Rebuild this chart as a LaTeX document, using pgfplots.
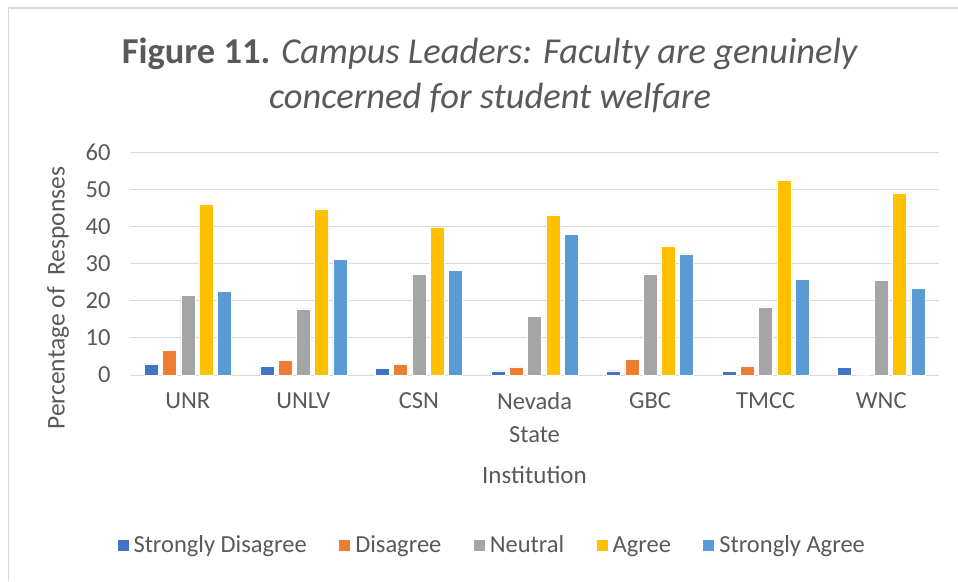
\documentclass[border=0pt]{standalone}
\usepackage{fontspec}
\setmainfont{Carlito}
\usepackage{pgfplots}
\pgfplotsset{compat=1.18}
\definecolor{txt}{HTML}{595959}
\definecolor{gridc}{HTML}{D9D9D9}
\definecolor{sdis}{HTML}{4472C4}
\definecolor{dis}{HTML}{ED7D31}
\definecolor{neu}{HTML}{A5A5A5}
\definecolor{agr}{HTML}{FFC000}
\definecolor{sagr}{HTML}{5B9BD5}

\begin{document}
\begin{tikzpicture}
\useasboundingbox (-130pt,-206pt) rectangle (828pt,375pt);
% chart frame (only top and left edges show)
\draw[gridc, line width=1.2pt] (-121.5pt,-206pt) -- (-121.5pt,367pt) -- (828pt,367pt);
\begin{axis}[
  scale only axis, width=809pt, height=223pt,
  ybar=4.3pt, bar width=14pt,
  xmin=-0.5, xmax=6.5, ymin=0, ymax=60,
  xtick=data,
  xticklabels={UNR,UNLV,CSN,{Nevada\\State},GBC,TMCC,WNC},
  ytick={0,10,20,30,40,50,60},
  /pgf/number format/assume math mode=true,
  tick style={draw=none},
  axis line style={draw=none},
  ymajorgrids, grid style={gridc, line width=1pt},
  tick label style={font=\fontsize{24.5}{33}\selectfont, text=txt},
  xticklabel style={align=center, anchor=north, yshift=-10pt},
  yticklabel style={anchor=east, xshift=-16pt},
  xlabel={Institution},
  xlabel style={font=\fontsize{25}{28}\selectfont, text=txt, at={(axis description cs:0.5,0)}, anchor=center, yshift=-100pt},
  ylabel={Percentage of\ \ Responses},
  ylabel style={font=\fontsize{25.5}{28}\selectfont, text=txt, at={(axis description cs:-0.089,0.345)}, anchor=center, rotate=0},
  legend columns=5,
  legend style={draw=none, fill=none, at={(363pt,-170pt)}, anchor=center,
    font=\fontsize{24.5}{28}\selectfont, text=txt,
    /tikz/every even column/.append style={column sep=27pt},
    nodes={inner sep=4.5pt}},
  legend image code/.code={\fill[#1] (0pt,-6pt) rectangle (12pt,6pt);},
]
\addplot[fill=sdis, draw=white, line width=0.4pt] coordinates {(0,3.0)(1,2.3)(2,1.8)(3,1.1)(4,1.1)(5,1.0)(6,2.1)};
\addplot[fill=dis, draw=white, line width=0.4pt] coordinates {(0,6.7)(1,3.9)(2,3.0)(3,2.2)(4,4.2)(5,2.4)(6,0)};
\addplot[fill=neu, draw=white, line width=0.4pt] coordinates {(0,21.4)(1,17.8)(2,27.2)(3,15.8)(4,27.2)(5,18.3)(6,25.4)};
\addplot[fill=agr, draw=white, line width=0.4pt] coordinates {(0,45.9)(1,44.7)(2,39.9)(3,43.1)(4,34.7)(5,52.5)(6,49.0)};
\addplot[fill=sagr, draw=white, line width=0.4pt] coordinates {(0,22.6)(1,31.2)(2,28.2)(3,37.8)(4,32.6)(5,25.7)(6,23.4)};
\legend{Strongly Disagree,Disagree,Neutral,Agree,Strongly Agree}
\end{axis}
\node[text=txt, font=\fontsize{36.5}{45}\selectfont, align=center] at (360pt,299.5pt)
  {\textbf{Figure 11.} \textit{Campus Leaders: Faculty are genuinely}\\\textit{concerned for student welfare}};
\end{tikzpicture}
\end{document}
